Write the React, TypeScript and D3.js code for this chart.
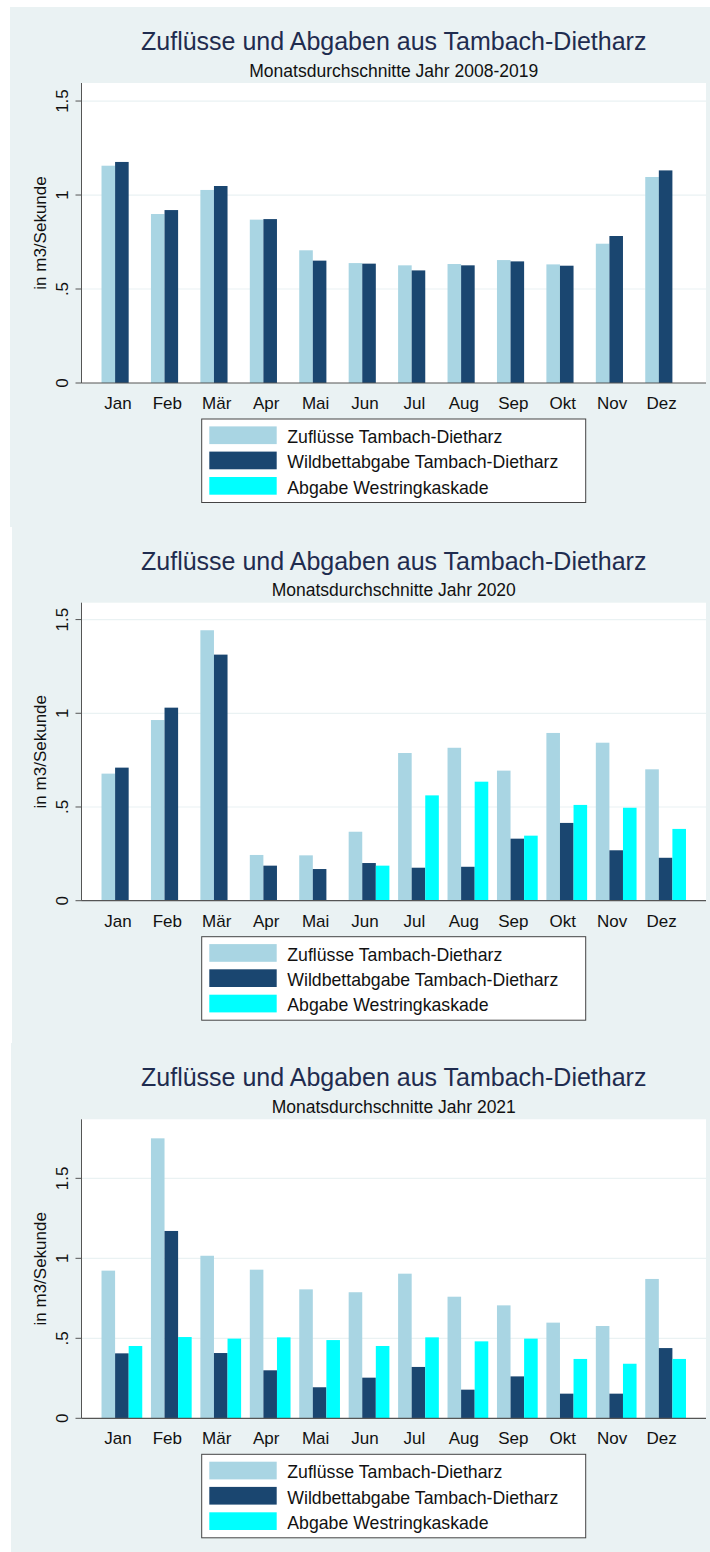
import React from "react";
import * as d3 from "d3";

const months = ["Jan", "Feb", "Mär", "Apr", "Mai", "Jun", "Jul", "Aug", "Sep", "Okt", "Nov", "Dez"];
const seriesNames = ["Zuflüsse Tambach-Dietharz", "Wildbettabgabe Tambach-Dietharz", "Abgabe Westringkaskade"];
const seriesColors = ["#a9d5e3", "#1a4670", "#00ffff"];

const zufluss0819 = [1.156, 0.899, 1.027, 0.869, 0.706, 0.638, 0.626, 0.633, 0.654, 0.631, 0.741, 1.096];
const wild0819 = [1.176, 0.92, 1.048, 0.872, 0.651, 0.635, 0.599, 0.626, 0.647, 0.624, 0.782, 1.131];
const west0819: (number | null)[] = [null, null, null, null, null, null, null, null, null, null, null, null];

const zufluss2020 = [0.678, 0.964, 1.443, 0.244, 0.242, 0.368, 0.788, 0.816, 0.694, 0.895, 0.843, 0.701];
const wild2020 = [0.71, 1.03, 1.313, 0.187, 0.169, 0.201, 0.176, 0.181, 0.331, 0.415, 0.269, 0.229];
const west2020: (number | null)[] = [null, null, null, null, null, 0.187, 0.562, 0.635, 0.347, 0.511, 0.496, 0.383];

const zufluss2021 = [0.923, 1.75, 1.016, 0.929, 0.806, 0.788, 0.904, 0.76, 0.706, 0.598, 0.577, 0.871];
const wild2021 = [0.406, 1.171, 0.408, 0.3, 0.194, 0.254, 0.321, 0.179, 0.262, 0.154, 0.154, 0.439];
const west2021 = [0.452, 0.508, 0.498, 0.506, 0.489, 0.452, 0.506, 0.481, 0.498, 0.371, 0.341, 0.371];

const yTicks = [0, 0.5, 1, 1.5];
const yTickLabels = ["0", ".5", "1", "1.5"];

const mainTitle = "Zuflüsse und Abgaben aus Tambach-Dietharz";
const subtitles = ["Monatsdurchschnitte Jahr 2008-2019", "Monatsdurchschnitte Jahr 2020", "Monatsdurchschnitte Jahr 2021"];
const panelSeries = [
  [zufluss0819, wild0819, west0819],
  [zufluss2020, wild2020, west2020],
  [zufluss2021, wild2021, west2021],
];

// layout
const panelLayout = [
  { bgX: 10, bgY: 7, bgH: 520, top: 83, zero: 383, yMax: 1.596 },
  { bgX: 12, bgY: 527, bgH: 516, top: 602.7, zero: 900.7, yMax: 1.59 },
  { bgX: 11, bgY: 1043, bgH: 509, top: 1119.3, zero: 1418.3, yMax: 1.869 },
];
const plotLeft = 81.5;
const plotRight = 706;
const FONT = "'Liberation Sans', Arial, Helvetica, sans-serif";
const BG = "#eaf2f3";

function Panel({ idx }: { idx: number }) {
  const L = panelLayout[idx];
  const series = panelSeries[idx];
  const x = d3.scaleBand<string>().domain(months).range([plotLeft, plotRight]).paddingInner(0.176).paddingOuter(0.405);
  const sub = d3.scaleBand<number>().domain([0, 1, 2]).range([0, x.bandwidth()]).padding(0);
  const y = d3.scaleLinear().domain([0, L.yMax]).range([L.zero, L.top]);
  const cx = (plotLeft + plotRight) / 2;
  const legTop = L.zero + 36;
  const legX = 201.7;
  const legW = 384;
  const legH = 83.5;
  const rowOffsets = [7.4, 32.6, 58];
  return (
    <g>
      <rect x={L.bgX} y={L.bgY} width={710 - L.bgX} height={L.bgH} fill={BG} />
      <rect x={plotLeft} y={L.top} width={plotRight - plotLeft} height={L.zero - L.top} fill="#ffffff" />
      <text x={cx} y={L.top - 33} textAnchor="middle" fontSize={25} fill="#1f2c4f" fontFamily={FONT}>
        {mainTitle}
      </text>
      <text x={cx} y={L.top - 6.5} textAnchor="middle" fontSize={17.5} fill="#111" fontFamily={FONT}>
        {subtitles[idx]}
      </text>
      {yTicks.map((t, i) =>
        t > 0 && y(t) > L.top ? (
          <line key={"g" + i} x1={plotLeft} x2={plotRight} y1={y(t)} y2={y(t)} stroke={BG} strokeWidth={1.2} />
        ) : null
      )}
      {series.map((vals, s) =>
        vals.map((v, m) =>
          v == null ? null : (
            <rect
              key={s + "-" + m}
              x={(x(months[m]) as number) + (sub(s) as number)}
              y={y(v)}
              width={sub.bandwidth()}
              height={L.zero - y(v)}
              fill={seriesColors[s]}
            />
          )
        )
      )}
      <line x1={plotLeft} x2={plotLeft} y1={L.top} y2={L.zero} stroke="#555" strokeWidth={1} />
      <line x1={plotLeft} x2={plotRight} y1={L.zero} y2={L.zero} stroke="#555" strokeWidth={1.2} />
      {yTicks.map((t, i) => (
        <g key={"t" + i}>
          <line x1={plotLeft - 6} x2={plotLeft} y1={y(t)} y2={y(t)} stroke="#555" />
          <text
            transform={`translate(68,${y(t)}) rotate(-90)`}
            textAnchor="middle"
            fontSize={17}
            fill="#111"
            fontFamily={FONT}
          >
            {yTickLabels[i]}
          </text>
        </g>
      ))}
      <text
        transform={`translate(46,${(L.top + L.zero) / 2}) rotate(-90)`}
        textAnchor="middle"
        fontSize={17}
        fill="#111"
        fontFamily={FONT}
      >
        in m3/Sekunde
      </text>
      {months.map((m) => (
        <text
          key={m}
          x={(x(m) as number) + x.bandwidth() / 2 - 4}
          y={L.zero + 26}
          textAnchor="middle"
          fontSize={17}
          fill="#111"
          fontFamily={FONT}
        >
          {m}
        </text>
      ))}
      <rect x={legX} y={legTop} width={legW} height={legH} fill="#fff" stroke="#444" strokeWidth={1} />
      {seriesNames.map((n, s) => (
        <g key={n}>
          <rect x={legX + 7.6} y={legTop + rowOffsets[s]} width={67.4} height={17.7} fill={seriesColors[s]} />
          <text x={legX + 85.6} y={legTop + rowOffsets[s] + 16.7} fontSize={17.7} fill="#111" fontFamily={FONT}>
            {n}
          </text>
        </g>
      ))}
    </g>
  );
}

export default function App() {
  return (
    <svg
      width={710}
      height={1552}
      style={{ position: "absolute", left: 0, top: 0, background: "#fff" }}
      xmlns="http://www.w3.org/2000/svg"
    >
      <rect x={0} y={0} width={710} height={1552} fill="#fff" />
      {[0, 1, 2].map((i) => (
        <Panel key={i} idx={i} />
      ))}
    </svg>
  );
}
